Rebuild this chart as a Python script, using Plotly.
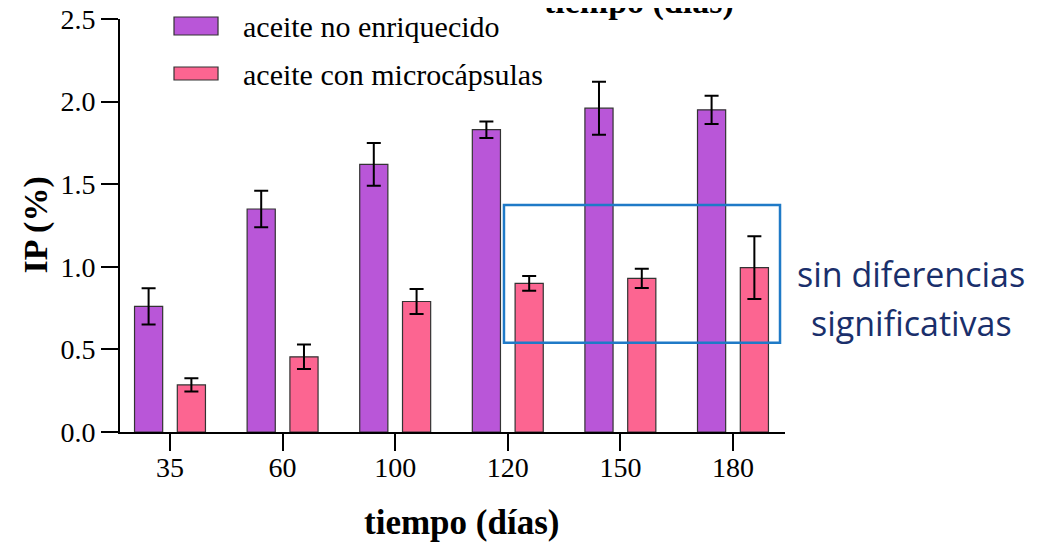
import plotly.graph_objects as go

# ---- data ----
days = ["35", "60", "100", "120", "150", "180"]
series_names = ["aceite no enriquecido", "aceite con microcápsulas"]
ip_no_enriquecido = [0.76, 1.35, 1.62, 1.83, 1.96, 1.95]
err_no_enriquecido = [0.11, 0.11, 0.13, 0.05, 0.16, 0.085]
ip_microcapsulas = [0.285, 0.455, 0.79, 0.90, 0.93, 0.995]
err_microcapsulas = [0.04, 0.074, 0.076, 0.045, 0.058, 0.19]
y_ticks = [0.0, 0.5, 1.0, 1.5, 2.0, 2.5]
colors = ["#B956D8", "#FC6591"]

serif = "Liberation Serif"

fig = go.Figure()
for name, vals, errs, col, off in [
    (series_names[0], ip_no_enriquecido, err_no_enriquecido, colors[0], -0.315),
    (series_names[1], ip_microcapsulas, err_microcapsulas, colors[1], 0.065),
]:
    fig.add_trace(go.Bar(
        x=days, y=vals, name=name, width=0.25, offset=off,
        marker=dict(color=col, line=dict(color="#333333", width=1.2)),
        error_y=dict(type="data", array=errs, visible=True,
                     color="#000000", thickness=2, width=7),
        showlegend=False,
    ))

fig.update_layout(
    width=1060, height=544,
    margin=dict(l=112, r=283, t=11, b=120),
    paper_bgcolor="white", plot_bgcolor="white",
    barmode="overlay",
    font=dict(family=serif, size=28, color="#000000"),
    xaxis=dict(
        type="category", range=[-0.444, 5.462], automargin=False,
        showline=True, linecolor="#000000", linewidth=2,
        ticks="outside", ticklen=17, tickwidth=2, tickcolor="#000000",
        showgrid=False, zeroline=False, ticklabelstandoff=-8,
        ticklabeloverflow="allow",
        tickfont=dict(family=serif, size=28),
    ),
    yaxis=dict(
        range=[0, 2.5], tickvals=y_ticks, automargin=False,
        ticktext=[f"{v:.1f}" for v in y_ticks],
        showline=True, linecolor="#000000", linewidth=2,
        ticks="outside", ticklen=17, tickwidth=2, tickcolor="#000000",
        showgrid=False, zeroline=False, ticklabeloverflow="allow",
        tickfont=dict(family=serif, size=28),
    ),
)

annotations = [
    dict(text="<b>IP (%)</b>", x=0, y=0.5, xref="paper", yref="paper",
         xanchor="center", yanchor="middle", xshift=-85, textangle=-90,
         showarrow=False, font=dict(family=serif, size=34)),
    dict(text="<b>tiempo (días)</b>", x=0.513, y=0, xref="paper", yref="paper",
         xanchor="center", yanchor="middle", yshift=-90,
         showarrow=False, font=dict(family=serif, size=35)),
    dict(text="<b>tiempo (días)</b>", x=0.78, y=1.0, xref="paper", yref="paper",
         xanchor="center", yanchor="middle", yshift=17,
         showarrow=False, font=dict(family=serif, size=34)),
    dict(text="sin diferencias", x=1.19, y=0.383, xref="paper", yref="paper",
         xanchor="center", yanchor="middle", showarrow=False,
         font=dict(family="Open Sans", size=34, color="#1A2F6B")),
    dict(text="significativas", x=1.19, y=0.264, xref="paper", yref="paper",
         xanchor="center", yanchor="middle", showarrow=False,
         font=dict(family="Open Sans", size=34, color="#1A2F6B")),
]
# legend-like entries
leg_y = [(1.0048, 0.9613, 0.983), (0.8838, 0.8523, 0.866)]
shapes = []
for (y1, y0, yc), name, col in zip(leg_y, series_names, colors):
    shapes.append(dict(type="rect", xref="paper", yref="paper",
                       x0=0.0812, x1=0.1474, y0=y0, y1=y1,
                       fillcolor=col, line=dict(color="#333333", width=1.2)))
    annotations.append(dict(text=name, x=0.182, y=yc, xref="paper", yref="paper",
                            xanchor="left", yanchor="middle", showarrow=False,
                            font=dict(family=serif, size=30)))
# highlight box
shapes.append(dict(type="rect", xref="paper", yref="y",
                   x0=0.5774, x1=0.9925, y0=0.54, y1=1.374,
                   line=dict(color="#1F7AC7", width=2.5), fillcolor="rgba(0,0,0,0)"))

fig.update_layout(annotations=annotations, shapes=shapes)
fig.write_html("out.html")
